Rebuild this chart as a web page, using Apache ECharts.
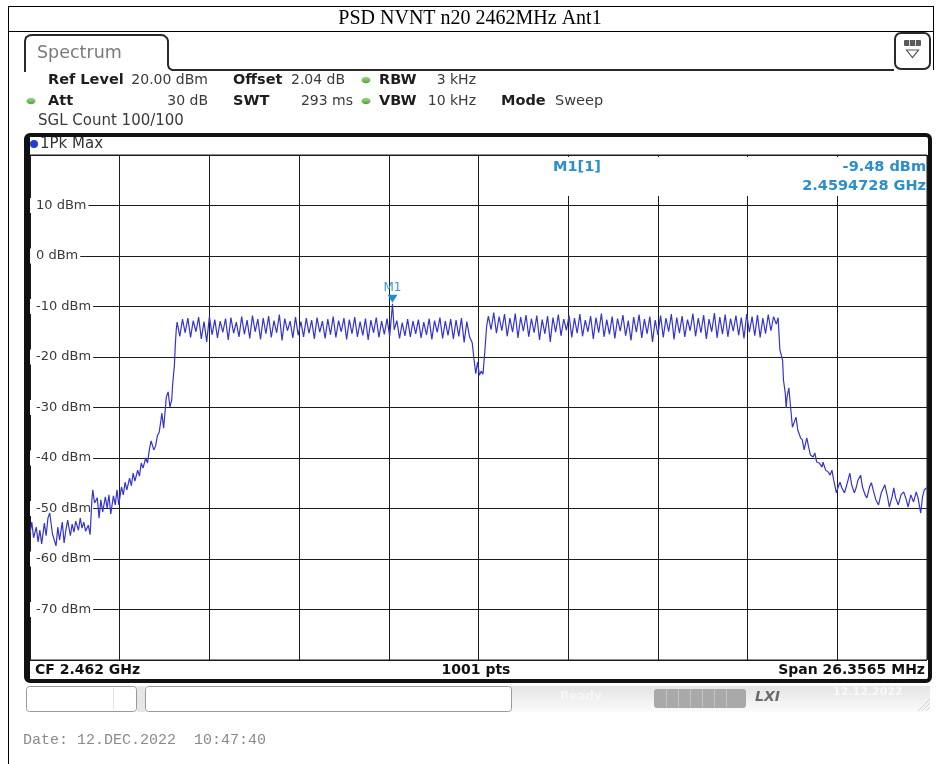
<!DOCTYPE html>
<html>
<head>
<meta charset="utf-8">
<title>PSD NVNT n20 2462MHz Ant1</title>
<script src="https://cdn.jsdelivr.net/npm/echarts/dist/echarts.min.js"></script>
<style>
  html, body { margin: 0; padding: 0; background: #fff; }
  #chart { width: 938px; height: 764px; }
</style>
</head>
<body>
<div id="chart"></div>
<script>
// Sweep settings
const CENTER_MHZ = 2462;
const SPAN_MHZ = 26.3565;
const SWEEP_POINTS = 1001;
const REF_LEVEL_DBM = 20;
const BOTTOM_LEVEL_DBM = -80;
const LEVEL_STEP_DB = 10;

// Marker M1
const M1_FREQ_MHZ = 2459.4728;
const M1_LEVEL_DBM = -9.48;

// Trace vertices as [sweep point index, level dBm]
const lowerSkirt = [
  [0,-54.9],[2,-52.7],[4,-55.8],[7,-53.7],[9,-56.6],[11,-54.3],[13,-57.0],[16,-52.9],[18,-55.4],[20,-51.9],
  [22,-50.9],[25,-55.0],[27,-56.2],[29,-57.4],[31,-53.7],[33,-56.2],[36,-52.7],[38,-56.8],[40,-54.3],[42,-52.3],
  [45,-55.4],[47,-53.1],[49,-54.7],[51,-52.5],[54,-54.3],[56,-51.9],[58,-53.9],[60,-52.7],[62,-54.5],[65,-53.3],
  [67,-55.2],[69,-48.3],[70,-46.3],[72,-48.9],[75,-47.9],[77,-51.9],[79,-48.3],[81,-50.7],[84,-47.7],[86,-49.9],
  [88,-47.3],[90,-51.1],[93,-47.5],[95,-49.3],[97,-46.3],[99,-49.3],[102,-45.7],[104,-47.3],[106,-44.8],[108,-46.3],
  [111,-44.0],[113,-45.5],[115,-43.0],[117,-44.6],[120,-42.4],[122,-43.6],[124,-41.0],[126,-42.0],[129,-40.0],[131,-41.0],
  [133,-38.4],[135,-36.6],[138,-38.4],[140,-37.6],[142,-35.6],[144,-34.9],[146,-32.5],[147,-31.1],[149,-34.1],[152,-27.9],
  [154,-26.9],[156,-29.9],[158,-28.5],[159,-25.5],[161,-21.6],[162,-17.6],[163,-14.7],[164,-13.1]
];

const bandLower = [
  [167,-15.9],[170,-12.5],[173,-15.2],[176,-12.3],[179,-16.1],[182,-12.8],[185,-15.0],[188,-12.1],[191,-16.4],[194,-13.0],
  [197,-17.0],[200,-12.0],[203,-15.6],[206,-12.6],[209,-16.2],[212,-12.9],[215,-15.1],[218,-12.4],[221,-16.6],[224,-12.2],
  [227,-15.3],[230,-13.1],[233,-16.0],[236,-12.0],[239,-15.5],[242,-12.7],[245,-16.3],[248,-11.8],[251,-15.0],[254,-12.5],
  [257,-16.5],[260,-12.3],[263,-15.4],[266,-11.9],[269,-16.1],[272,-12.8],[275,-15.2],[278,-11.6],[281,-16.7],[284,-12.4],
  [287,-14.8],[290,-12.9],[293,-16.2],[296,-12.1],[299,-15.7],[302,-13.0],[305,-16.0],[308,-12.3],[311,-15.3],[314,-12.7],
  [317,-16.4],[320,-12.2],[323,-15.1],[326,-12.9],[329,-16.3],[332,-12.5],[335,-15.6],[338,-12.0],[341,-16.1],[344,-12.8],
  [347,-15.0],[350,-12.3],[353,-16.5],[356,-12.6],[359,-15.4],[362,-12.1],[365,-16.0],[368,-13.0],[371,-15.7],[374,-12.4],
  [377,-16.6],[380,-12.7],[383,-15.2],[386,-12.2],[389,-16.1],[392,-12.9],[395,-15.5],[398,-12.4],[401,-15.9],
  [406,-14.6],[409,-12.8],[412,-16.3],[415,-13.2],[418,-15.8],[421,-12.5],[424,-16.0],[427,-12.9],[430,-15.4],[433,-12.6],
  [436,-16.2],[439,-13.1],[442,-15.6],[445,-12.4],[448,-16.5],[451,-12.8],[454,-15.1],[457,-12.2],[460,-16.3],[463,-12.9],
  [466,-15.7],[469,-12.5],[472,-16.4],[475,-12.7],[478,-15.9],[481,-12.3],[484,-17.1],[487,-13.0],[490,-16.0]
];

const centerNotch = [
  [493,-17.2],[495,-20.5],[497,-23.3],[499,-21.0],[501,-23.6],[503,-22.8],[505,-23.4],[507,-19.0],[509,-14.0]
];

const bandUpper = [
  [511,-11.9],[514,-14.6],[517,-11.2],[520,-15.3],[523,-12.0],[526,-14.8],[529,-11.5],[532,-15.9],[535,-12.3],[538,-15.1],
  [541,-11.4],[544,-16.2],[547,-12.1],[550,-14.9],[553,-11.7],[556,-16.0],[559,-12.4],[562,-15.2],[565,-11.8],[568,-16.6],
  [571,-12.6],[574,-15.4],[577,-11.9],[580,-17.0],[583,-12.2],[586,-15.1],[589,-11.6],[592,-15.8],[595,-12.5],[598,-14.7],
  [601,-11.8],[604,-16.1],[607,-12.3],[610,-15.3],[613,-11.5],[616,-15.9],[619,-12.7],[622,-15.0],[625,-11.9],[628,-16.4],
  [631,-12.2],[634,-15.2],[637,-11.4],[640,-16.0],[643,-12.6],[646,-15.5],[649,-12.0],[652,-16.3],[655,-12.4],[658,-14.9],
  [661,-11.7],[664,-15.8],[667,-12.8],[670,-16.7],[673,-12.1],[676,-15.1],[679,-11.6],[682,-16.2],[685,-12.5],[688,-15.4],
  [691,-12.0],[694,-17.0],[697,-12.7],[700,-15.6],[703,-11.8],[706,-16.1],[709,-12.3],[712,-15.0],[715,-11.5],[718,-16.5],
  [721,-12.2],[724,-15.3],[727,-11.9],[730,-16.0],[733,-12.6],[736,-14.8],[739,-11.4],[742,-15.9],[745,-12.3],[748,-15.2],
  [751,-11.7],[754,-16.4],[757,-12.5],[760,-15.0],[763,-11.3],[766,-16.2],[769,-12.1],[772,-15.5],[775,-11.6],[778,-16.0],
  [781,-12.4],[784,-14.9],[787,-11.8],[790,-15.7],[793,-12.2],[796,-16.3],[799,-11.5],[802,-15.1],[805,-12.0],[808,-15.8],
  [811,-11.7],[814,-16.1],[817,-12.3],[820,-15.4],[823,-11.6],[826,-14.8],[829,-12.0],[832,-13.5],[834,-12.2]
];

const upperSkirt = [
  [836,-18.6],[839,-20.6],[840,-24.6],[842,-27.1],[843,-30.1],[844,-27.9],[846,-26.1],[848,-30.1],[850,-33.9],[852,-34.1],
  [854,-31.9],[856,-34.5],[859,-36.0],[861,-36.4],[863,-38.4],[866,-36.0],[868,-37.8],[870,-39.4],[873,-39.8],[875,-39.0],
  [877,-40.8],[880,-41.0],[883,-41.8],[884,-40.8],[887,-42.4],[890,-42.8],[892,-43.4],[894,-42.4],[896,-44.4],[899,-46.9],
  [901,-45.7],[903,-44.8],[905,-45.9],[908,-46.9],[910,-45.7],[914,-43.0],[916,-45.3],[919,-46.9],[921,-45.9],[923,-44.4],
  [926,-43.4],[928,-45.7],[931,-47.3],[933,-47.9],[936,-45.7],[938,-44.9],[940,-46.3],[943,-48.3],[946,-49.3],[949,-46.9],
  [953,-45.3],[956,-47.7],[958,-49.7],[961,-47.7],[963,-45.9],[965,-47.9],[968,-49.3],[971,-47.3],[974,-46.7],[977,-48.3],
  [979,-49.7],[982,-47.3],[985,-48.7],[988,-46.7],[990,-47.9],[993,-50.9],[995,-47.7],[997,-46.3],[1000,-45.9]
];

// Build the trace as [offset from centre in MHz, dBm]
const stepMHz = SPAN_MHZ / (SWEEP_POINTS - 1);
const halfSpan = SPAN_MHZ / 2;
const trace = [].concat(lowerSkirt, bandLower, centerNotch, bandUpper, upperSkirt)
  .map(p => [p[0] * stepMHz - halfSpan, p[1]]);
const m1Offset = M1_FREQ_MHZ - CENTER_MHZ;
const insertAt = trace.findIndex(p => p[0] > m1Offset);
trace.splice(insertAt, 0, [m1Offset, M1_LEVEL_DBM]);

const SANS = 'DejaVu Sans';
const MARKER_BLUE = '#2a8fcb';

function label(x, y, text, extra) {
  const style = Object.assign({
    text: text, fontFamily: SANS, fontSize: 14, fontWeight: 'normal', fill: '#3a3a3a',
    textAlign: 'left', align: 'left', textVerticalAlign: 'middle', verticalAlign: 'middle'
  }, extra || {});
  if (style.textAlign) style.align = style.textAlign;
  return { type: 'text', x: x, y: y, z: 30, silent: true, style: style };
}
function bold(x, y, text, extra) {
  return label(x, y, text, Object.assign({ fontWeight: 'bold', fill: '#1e1e1e', fontSize: 14.5 }, extra || {}));
}
function hline(x1, x2, y, color, w, z) {
  return { type: 'line', z: z || 25, silent: true, shape: { x1: x1, y1: y, x2: x2, y2: y }, style: { stroke: color, lineWidth: w } };
}
function vline(x, y1, y2, color, w, z) {
  return { type: 'line', z: z || 25, silent: true, shape: { x1: x, y1: y1, x2: x, y2: y2 }, style: { stroke: color, lineWidth: w } };
}
function dot(cx, cy) {
  return { type: 'ellipse', z: 30, silent: true, shape: { cx: cx, cy: cy, rx: 4.5, ry: 3.2 },
    style: { fill: { type: 'linear', x: 0, y: 0, x2: 0, y2: 1, colorStops: [{ offset: 0, color: '#9fd88a' }, { offset: 1, color: '#4ea53a' }] } } };
}

const graphics = [
  // report table lines and caption
  hline(8, 934, 6.5, '#000', 1),
  hline(8, 934, 31.5, '#000', 1),
  vline(8.5, 6, 764, '#000', 1),
  vline(933.5, 6, 70, '#000', 1),
  { type: 'text', x: 470, y: 19, z: 30, silent: true,
    style: { text: 'PSD NVNT n20 2462MHz Ant1', fontFamily: 'Liberation Serif', fontSize: 20, fill: '#000',
      textAlign: 'center', align: 'center', textVerticalAlign: 'middle', verticalAlign: 'middle' } },

  // window tab
  { type: 'polyline', z: 25, silent: true,
    shape: { points: [[25, 72], [25, 41], [26, 37.5], [29, 35.5], [32, 35], [161, 35], [164, 35.5], [167, 38], [168, 41],
      [168, 65], [169, 68], [172, 70], [894, 70]] },
    style: { stroke: '#2a2a2a', lineWidth: 2, fill: null } },
  label(37, 53, 'Spectrum', { fontSize: 17.5, fill: '#7a7a7a' }),

  // settings button
  { type: 'rect', z: 25, silent: true, shape: { x: 895, y: 33, width: 35, height: 36, r: 6 },
    style: { fill: '#fff', stroke: '#2a2a2a', lineWidth: 2 } },
  { type: 'rect', z: 26, silent: true, shape: { x: 904, y: 40, width: 17, height: 6, r: 1 }, style: { fill: '#5a5a5a' } },
  vline(909.5, 40, 46, '#d8d8d8', 1, 27),
  vline(915.5, 40, 46, '#d8d8d8', 1, 27),
  { type: 'polygon', z: 26, silent: true, shape: { points: [[906.5, 50], [918.5, 50], [912.5, 57.5]] },
    style: { fill: '#fff', stroke: '#555', lineWidth: 1.2 } },

  // instrument settings
  bold(48, 80, 'Ref Level'),
  label(208, 80, REF_LEVEL_DBM.toFixed(2) + ' dBm', { textAlign: 'right' }),
  bold(233, 80, 'Offset'),
  label(291, 80, '2.04 dB'),
  dot(366, 80),
  bold(379, 80, 'RBW'),
  label(476, 80, '3 kHz', { textAlign: 'right' }),
  dot(31, 101),
  bold(48, 101, 'Att'),
  label(208, 101, '30 dB', { textAlign: 'right' }),
  bold(233, 101, 'SWT'),
  label(353, 101, '293 ms', { textAlign: 'right' }),
  dot(366, 101),
  bold(379, 101, 'VBW'),
  label(476, 101, '10 kHz', { textAlign: 'right' }),
  bold(501, 101, 'Mode'),
  label(555, 101, 'Sweep', { fontSize: 14.5 }),
  label(38, 121, 'SGL Count 100/100', { fontSize: 15 }),

  // diagram frame
  { type: 'rect', z: 40, silent: true, shape: { x: 26, y: 135, width: 904, height: 546, r: 4 },
    style: { fill: null, stroke: '#111', lineWidth: 4 } },
  vline(29, 135, 681, '#111', 2, 40),
  { type: 'circle', z: 30, silent: true, shape: { cx: 34, cy: 144, r: 4 }, style: { fill: '#1f3fd0' } },
  label(40, 144, '1Pk Max', { fontSize: 15, fill: '#333' }),

  // marker readout (blanks the grid behind it)
  { type: 'rect', z: 1, silent: true, shape: { x: 540, y: 157, width: 386, height: 39 }, style: { fill: '#fff' } },
  bold(553, 167, 'M1[1]', { fill: MARKER_BLUE }),
  bold(926, 167, M1_LEVEL_DBM.toFixed(2) + ' dBm', { fill: MARKER_BLUE, textAlign: 'right' }),
  bold(926, 186, (M1_FREQ_MHZ / 1000).toFixed(7) + ' GHz', { fill: MARKER_BLUE, textAlign: 'right' }),

  // footer of the diagram
  bold(35, 670, 'CF ' + (CENTER_MHZ / 1000).toFixed(3) + ' GHz', { fill: '#111', fontSize: 14 }),
  bold(476, 670, SWEEP_POINTS + ' pts', { fill: '#111', textAlign: 'center', fontSize: 14 }),
  bold(925, 670, 'Span ' + SPAN_MHZ.toFixed(4) + ' MHz', { fill: '#111', textAlign: 'right', fontSize: 14 }),

  // status bar
  { type: 'rect', z: 20, silent: true, shape: { x: 510, y: 686, width: 420, height: 26 },
    style: { fill: { type: 'linear', x: 0, y: 0, x2: 0, y2: 1, colorStops: [{ offset: 0, color: '#e4e4e4' }, { offset: 1, color: '#fbfbfb' }] } } },
  { type: 'rect', z: 21, silent: true, shape: { x: 26.5, y: 686.5, width: 110, height: 25, r: 3 },
    style: { fill: '#fff', stroke: '#9a9a9a', lineWidth: 1 } },
  vline(113.5, 688, 710, '#e2e2e2', 1, 22),
  { type: 'rect', z: 21, silent: true, shape: { x: 137, y: 686, width: 8, height: 26 }, style: { fill: '#e6e6e6' } },
  { type: 'rect', z: 22, silent: true, shape: { x: 145.5, y: 686.5, width: 366, height: 25, r: 3 },
    style: { fill: '#fff', stroke: '#9a9a9a', lineWidth: 1 } },
  label(560, 697, 'Ready', { fill: '#f6f6f6', fontSize: 12, fontWeight: 'bold' }),
  { type: 'rect', z: 22, silent: true, shape: { x: 654, y: 689, width: 92, height: 19, r: 3 }, style: { fill: '#a9a9a9' } },
  vline(666.5, 690, 707, '#c4c4c4', 1, 23), vline(678.5, 690, 707, '#c4c4c4', 1, 23),
  vline(690.5, 690, 707, '#c4c4c4', 1, 23), vline(702.5, 690, 707, '#c4c4c4', 1, 23),
  vline(714.5, 690, 707, '#c4c4c4', 1, 23), vline(726.5, 690, 707, '#c4c4c4', 1, 23),
  label(755, 697, 'LXI', { fill: '#6a6a6a', fontSize: 14, fontWeight: 'bold', fontStyle: 'italic' }),
  label(833, 692, '12.12.2022', { fill: '#f8f8f8', fontSize: 11, fontWeight: 'bold' }),
  { type: 'line', z: 23, silent: true, shape: { x1: 918, y1: 711, x2: 930, y2: 699 }, style: { stroke: '#cfcfcf', lineWidth: 1 } },
  { type: 'line', z: 23, silent: true, shape: { x1: 922, y1: 711, x2: 930, y2: 703 }, style: { stroke: '#cfcfcf', lineWidth: 1 } },
  { type: 'line', z: 23, silent: true, shape: { x1: 926, y1: 711, x2: 930, y2: 707 }, style: { stroke: '#cfcfcf', lineWidth: 1 } },

  // capture time stamp
  label(23, 740, 'Date: 12.DEC.2022  10:47:40', { fontFamily: 'Liberation Mono', fontSize: 15, fill: '#8a8a8a' })
];

const chart = echarts.init(document.getElementById('chart'), null, { renderer: 'canvas' });
chart.setOption({
  animation: false,
  backgroundColor: '#fff',
  grid: { left: 30, top: 155, width: 897, height: 505, show: true, borderColor: '#1c1c1c', borderWidth: 1, backgroundColor: 'transparent' },
  xAxis: {
    type: 'value', min: -halfSpan, max: halfSpan, interval: SPAN_MHZ / 10,
    axisLine: { show: false }, axisTick: { show: false }, axisLabel: { show: false },
    splitLine: { show: true, lineStyle: { color: '#1c1c1c', width: 1 } }
  },
  yAxis: {
    type: 'value', min: BOTTOM_LEVEL_DBM, max: REF_LEVEL_DBM, interval: LEVEL_STEP_DB,
    axisLine: { show: false }, axisTick: { show: false },
    splitLine: { show: true, lineStyle: { color: '#1c1c1c', width: 1 } },
    axisLabel: {
      inside: true, margin: 0, showMinLabel: false, showMaxLabel: false,
      formatter: v => v + ' dBm',
      fontFamily: SANS, fontSize: 13, color: '#3a3a3a',
      backgroundColor: '#fff', padding: [1, 2, 1, 6]
    }
  },
  series: [{
    type: 'line', data: trace, showSymbol: false, symbol: 'none', clip: true,
    lineStyle: { color: '#3434d2', width: 1.2 },
    markPoint: {
      symbol: 'triangle', symbolRotate: 180, symbolSize: [10, 8], symbolOffset: [0, -5],
      itemStyle: { color: '#1f8fd0' },
      label: { show: true, position: 'top', distance: 1, formatter: 'M1', color: '#3a9ad4', fontFamily: SANS, fontSize: 12 },
      data: [{ coord: [m1Offset, M1_LEVEL_DBM] }]
    }
  }],
  graphic: graphics
});
</script>
</body>
</html>
